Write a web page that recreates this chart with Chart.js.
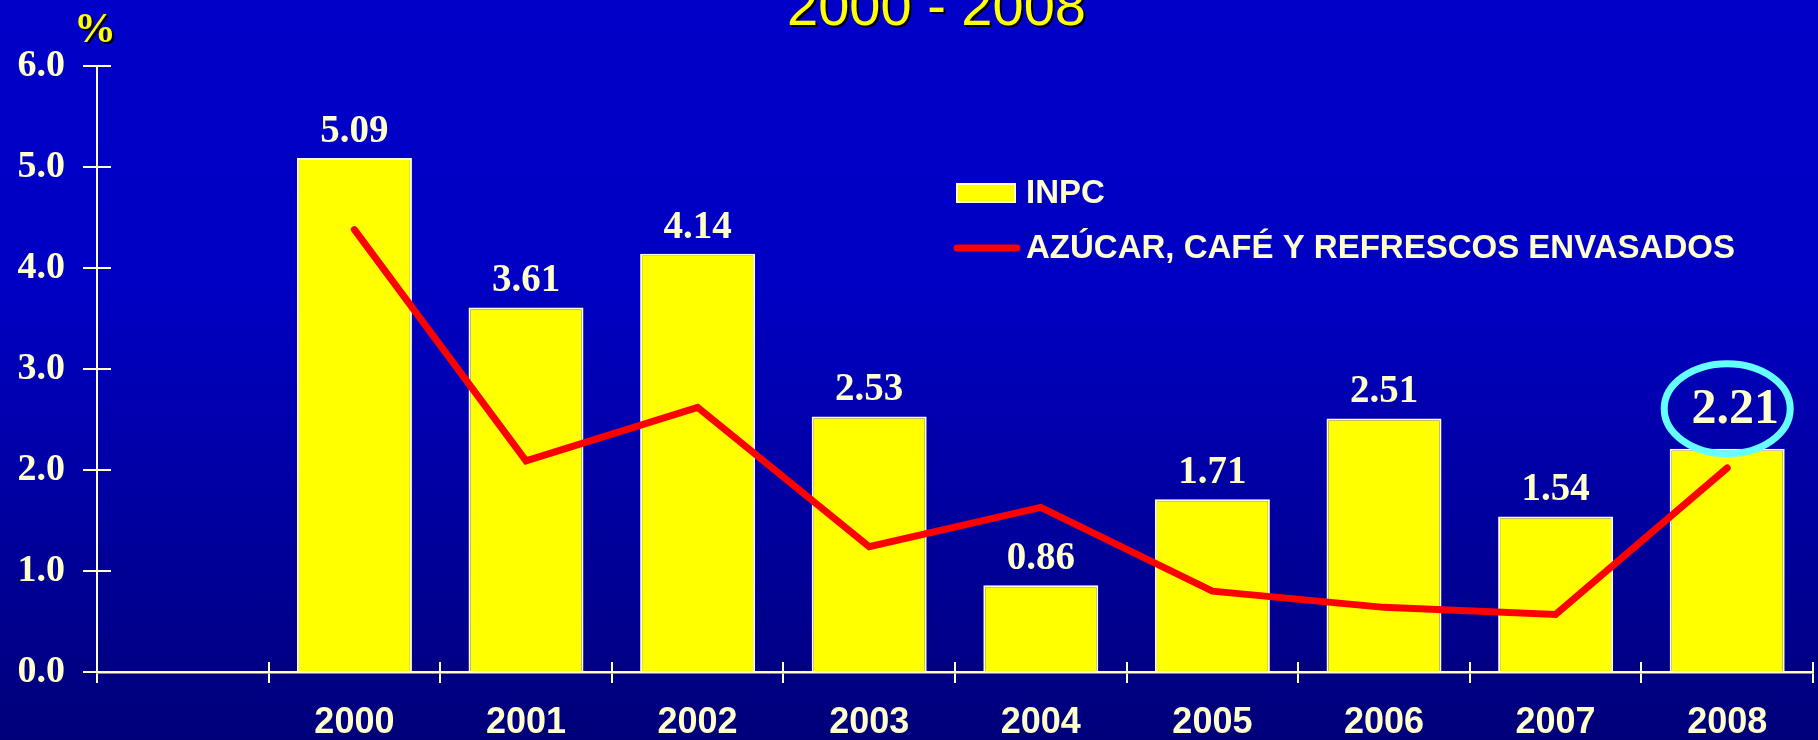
<!DOCTYPE html>
<html lang="es">
<head>
<meta charset="utf-8">
<title>INPC 2000 - 2008</title>
<script src="https://cdn.jsdelivr.net/npm/chart.js@4.4.1/dist/chart.umd.min.js"></script>
<style>
    html, body { margin: 0; padding: 0; }
    body {
        width: 1818px;
        height: 740px;
        overflow: hidden;
        background: linear-gradient(to bottom, #0000c8 0%, #0000c4 38%, #00009c 72%, #00007a 100%);
    }
    #wrap { position: relative; width: 1818px; height: 740px; }
    .heading {
        position: absolute;
        color: #ffff00;
        text-shadow: 2px 2px 0 #000000;
        white-space: nowrap;
    }
    #period { left: 787px; top: -22px; font: 56px/56px 'Liberation Sans', Arial, sans-serif; }
    #unit { left: 74px; top: 7px; font: bold 42px/42px 'Liberation Serif', 'Times New Roman', serif; }
</style>
</head>
<body>
<div id="wrap">
    <canvas id="inpc-chart"></canvas>
    <div id="period" class="heading">2000 - 2008</div>
    <div id="unit" class="heading">%</div>
</div>
<script>
const YEARS = ['', '2000', '2001', '2002', '2003', '2004', '2005', '2006', '2007', '2008'];
const INPC = [null, 5.09, 3.61, 4.14, 2.53, 0.86, 1.71, 2.51, 1.54, 2.21];
const SUGAR_COFFEE_SODA = [null, 4.38, 2.09, 2.62, 1.24, 1.63, 0.80, 0.64, 0.57, 2.02];
const Y_TICKS = [0, 1, 2, 3, 4, 5, 6];
const SERIES_LABELS = ['INPC', 'AZÚCAR, CAFÉ Y REFRESCOS ENVASADOS'];
const HIGHLIGHT_YEAR = '2008';

const CREAM = '#ffffcc';
const YELLOW = '#ffff00';
const RED = '#ff0000';
const CYAN = '#66ffff';
const SERIF = "'Liberation Serif', 'Times New Roman', serif";
const SANS = "'Liberation Sans', Arial, sans-serif";

// tick marks cross the axes, Chart.js only draws the outer half
const innerTicks = {
    id: 'innerTicks',
    afterDraw(chart) {
        const { ctx, chartArea, scales: { x, y } } = chart;
        ctx.save();
        ctx.strokeStyle = CREAM;
        ctx.lineWidth = 2;
        ctx.beginPath();
        y.ticks.forEach((tick) => {
            const py = y.getPixelForValue(tick.value);
            ctx.moveTo(chartArea.left, py);
            ctx.lineTo(chartArea.left + 14, py);
        });
        const half = (x.getPixelForValue(1) - x.getPixelForValue(0)) / 2;
        for (let i = 0; i <= YEARS.length; i += 1) {
            const px = Math.round(x.getPixelForValue(i) - half);
            ctx.moveTo(px, chartArea.bottom);
            ctx.lineTo(px, chartArea.bottom - 10);
        }
        ctx.stroke();
        ctx.restore();
    }
};

const valueLabels = {
    id: 'valueLabels',
    afterDatasetsDraw(chart) {
        const { ctx } = chart;
        const meta = chart.getDatasetMeta(1);
        ctx.save();
        ctx.fillStyle = CREAM;
        ctx.textAlign = 'center';
        ctx.textBaseline = 'alphabetic';
        meta.data.forEach((bar, i) => {
            const value = INPC[i];
            if (value === null) return;
            const text = value.toFixed(2);
            if (YEARS[i] === HIGHLIGHT_YEAR) {
                ctx.font = `bold 50px ${SERIF}`;
                ctx.fillText(text, bar.x + 8, bar.y - 26);
                ctx.strokeStyle = CYAN;
                ctx.lineWidth = 7;
                ctx.beginPath();
                ctx.ellipse(bar.x, bar.y - 40, 63, 45, 0, 0, Math.PI * 2);
                ctx.stroke();
            } else {
                ctx.font = `bold 39px ${SERIF}`;
                ctx.fillText(text, bar.x, bar.y - 16);
            }
        });
        ctx.restore();
    }
};

const legendBox = {
    id: 'legendBox',
    afterDraw(chart) {
        const { ctx } = chart;
        const [line, bars] = chart.data.datasets;
        ctx.save();
        ctx.fillStyle = bars.backgroundColor;
        ctx.fillRect(957, 184, 58, 18);
        ctx.strokeStyle = CREAM;
        ctx.lineWidth = 2;
        ctx.strokeRect(957, 184, 58, 18);

        ctx.strokeStyle = line.borderColor;
        ctx.lineWidth = 7;
        ctx.lineCap = 'round';
        ctx.beginPath();
        ctx.moveTo(957, 248);
        ctx.lineTo(1017, 248);
        ctx.stroke();

        ctx.fillStyle = CREAM;
        ctx.font = `bold 33px ${SANS}`;
        ctx.textBaseline = 'middle';
        ctx.fillText(bars.label, 1026, 194);
        ctx.fillText(line.label, 1026, 249);
        ctx.restore();
    }
};

function renderChart() {
    const canvas = document.getElementById('inpc-chart');
    const ctx = canvas.getContext('2d');

    return new Chart(ctx, {
        type: 'bar',
        data: {
            labels: YEARS,
            datasets: [
                {
                    type: 'line',
                    label: SERIES_LABELS[1],
                    data: SUGAR_COFFEE_SODA,
                    borderColor: RED,
                    borderWidth: 7,
                    borderCapStyle: 'round',
                    borderJoinStyle: 'miter',
                    pointRadius: 0,
                    tension: 0,
                    order: 0
                },
                {
                    label: SERIES_LABELS[0],
                    data: INPC,
                    backgroundColor: YELLOW,
                    borderColor: '#fffbe6',
                    borderWidth: 2,
                    categoryPercentage: 1,
                    barPercentage: 0.67,
                    order: 1
                }
            ]
        },
        options: {
            responsive: true,
            maintainAspectRatio: false,
            animation: false,
            layout: {
                padding: { top: 66, right: 5, left: 0, bottom: 0 }
            },
            plugins: {
                legend: { display: false },
                tooltip: { enabled: false }
            },
            scales: {
                x: {
                    offset: true,
                    grid: {
                        offset: true,
                        drawOnChartArea: false,
                        tickLength: 11,
                        color: CREAM,
                        lineWidth: 2
                    },
                    border: { color: CREAM, width: 2.5 },
                    ticks: {
                        color: CREAM,
                        padding: 18,
                        font: { family: SANS, weight: 'bold', size: 36 }
                    },
                    afterFit: (scale) => { scale.height = 68; }
                },
                y: {
                    min: 0,
                    max: 6,
                    grid: {
                        drawOnChartArea: false,
                        tickLength: 14,
                        color: CREAM,
                        lineWidth: 2
                    },
                    border: { color: CREAM, width: 2 },
                    ticks: {
                        color: CREAM,
                        padding: 18,
                        font: { family: SERIF, weight: 'bold', size: 38 },
                        callback: (value) => value.toFixed(1)
                    },
                    afterBuildTicks: (scale) => { scale.ticks = Y_TICKS.map((value) => ({ value })); },
                    afterFit: (scale) => { scale.width = 97; }
                }
            }
        },
        plugins: [innerTicks, valueLabels, legendBox]
    });
}

renderChart();
</script>
</body>
</html>
